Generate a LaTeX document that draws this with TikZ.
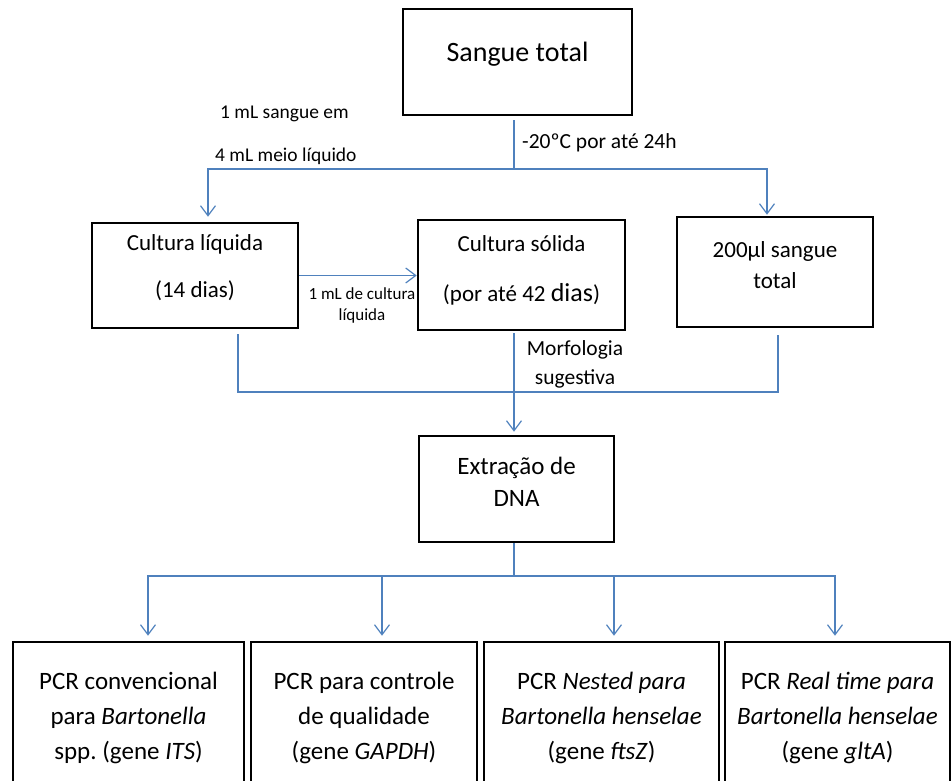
\documentclass[tikz,border=0pt]{standalone}
\usepackage{fontspec}
\setmainfont{Carlito}
\usetikzlibrary{arrows.meta,calc}
\definecolor{lineblue}{RGB}{79,129,189}
\frenchspacing
\begin{document}
\begin{tikzpicture}[x=1pt,y=-1pt,
  box/.style={draw=black,line width=2.6pt,inner sep=0pt},
  txt/.style={align=center,inner sep=0pt},
  lbl/.style={align=center,inner sep=0pt},
  conn/.style={draw=lineblue,line width=1.2pt},
  arr/.style={conn,-{Straight Barb[length=10pt,width=15pt]}},
]
\useasboundingbox (0,0) rectangle (952,780);
\clip (0,0) rectangle (952,780);

% boxes
\node[box,minimum width=229pt,minimum height=106pt] (sangue) at (517.5,62) {};
\node[box,minimum width=206pt,minimum height=105pt] (liq) at (195,275.5) {};
\node[box,minimum width=207pt,minimum height=110pt] (sol) at (521.5,275) {};
\node[box,minimum width=196pt,minimum height=110pt] (p200) at (775,272) {};
\node[box,minimum width=195pt,minimum height=106pt] (dna) at (516.5,489) {};
\node[box,minimum width=231pt,minimum height=158pt] (b1) at (128.5,721) {};
\node[box,minimum width=226pt,minimum height=158pt] (b2) at (364,721) {};
\node[box,minimum width=235pt,minimum height=158pt] (b3) at (601.5,721) {};
\node[box,minimum width=225pt,minimum height=158pt] (b4) at (837.5,721) {};

% box texts
\node[txt,font=\fontsize{28}{32}\selectfont] (tsangue) at (517.5,54) {Sangue total};
\node[txt,font=\fontsize{23}{47}\selectfont] (tliq) at (195,268) {Cultura líquida\\(14 dias)};
\node[txt,font=\fontsize{23}{50}\selectfont] (tsol) at (521.5,270) {Cultura sólida\\(por até 42 {\fontsize{26}{50}\selectfont dias})};
\node[txt,font=\fontsize{23}{31}\selectfont] (tp200) at (775,265) {200µl sangue\\total};
\node[txt,font=\fontsize{25}{32}\selectfont] (tdna) at (516.5,482) {Extração de\\DNA};
\node[txt,font=\fontsize{25}{35}\selectfont] (tb1) at (128.5,718) {PCR convencional\\para \textit{Bartonella}\\spp. (gene \textit{ITS})};
\node[txt,font=\fontsize{25}{35}\selectfont] (tb2) at (364,718) {PCR para controle\\de qualidade\\(gene \textit{GAPDH})};
\node[txt,font=\fontsize{25}{35}\selectfont] (tb3) at (601.5,718) {PCR \textit{Nested para}\\\textit{Bartonella henselae}\\(gene \textit{ftsZ})};
\node[txt,font=\fontsize{25}{35}\selectfont] (tb4) at (837.5,718) {PCR \textit{Real time para}\\\textit{Bartonella henselae}\\(gene \textit{gltA})};

% labels
\node[lbl,anchor=west,font=\fontsize{19.5}{22}\selectfont] (l1) at (220,114) {1 mL sangue em};
\node[lbl,anchor=west,font=\fontsize{19.5}{22}\selectfont] (l2) at (215,156) {4 mL meio líquido};
\node[lbl,anchor=west,font=\fontsize{21.5}{22}\selectfont] (l3) at (522,143) {-20ºC por até 24h};
\node[lbl,font=\fontsize{17}{21}\selectfont] (l4) at (362,305) {1 mL de cultura\\líquida};
\node[lbl,font=\fontsize{21.5}{29}\selectfont] (l5) at (575,364) {Morfologia\\sugestiva};

% junctions
\coordinate (j1) at (514,169);
\coordinate (j2) at (514,392);
\coordinate (j3) at (514,576);

% connectors
\draw[conn] ([yshift=-4pt]sangue.south -| j1) -- (j1);
\draw[arr] (j1) -| ([xshift=13pt,yshift=5pt]liq.north);
\draw[arr] (j1) -| ([xshift=-8pt,yshift=1pt]p200.north);
\draw[arr] (liq.east) -- (liq.east -| sol.west);
\draw[conn] ([xshift=43pt,yshift=-5pt]liq.south) |- (j2) -| ([xshift=3pt,yshift=-7pt]p200.south);
\draw[arr] ([xshift=-7.5pt,yshift=-2pt]sol.south) -- ([xshift=-2.5pt,yshift=3pt]dna.north);
\draw[conn] ([xshift=-2.5pt]dna.south) -- (j3);
\draw[arr] (j3) -| ([xshift=19.5pt,yshift=5pt]b1.north);
\draw[arr] (j3) -| ([xshift=18pt,yshift=5pt]b2.north);
\draw[arr] (j3) -| ([xshift=12.5pt,yshift=5pt]b3.north);
\draw[arr] (j3) -| ([xshift=-2.5pt,yshift=5pt]b4.north);
\end{tikzpicture}
\end{document}
